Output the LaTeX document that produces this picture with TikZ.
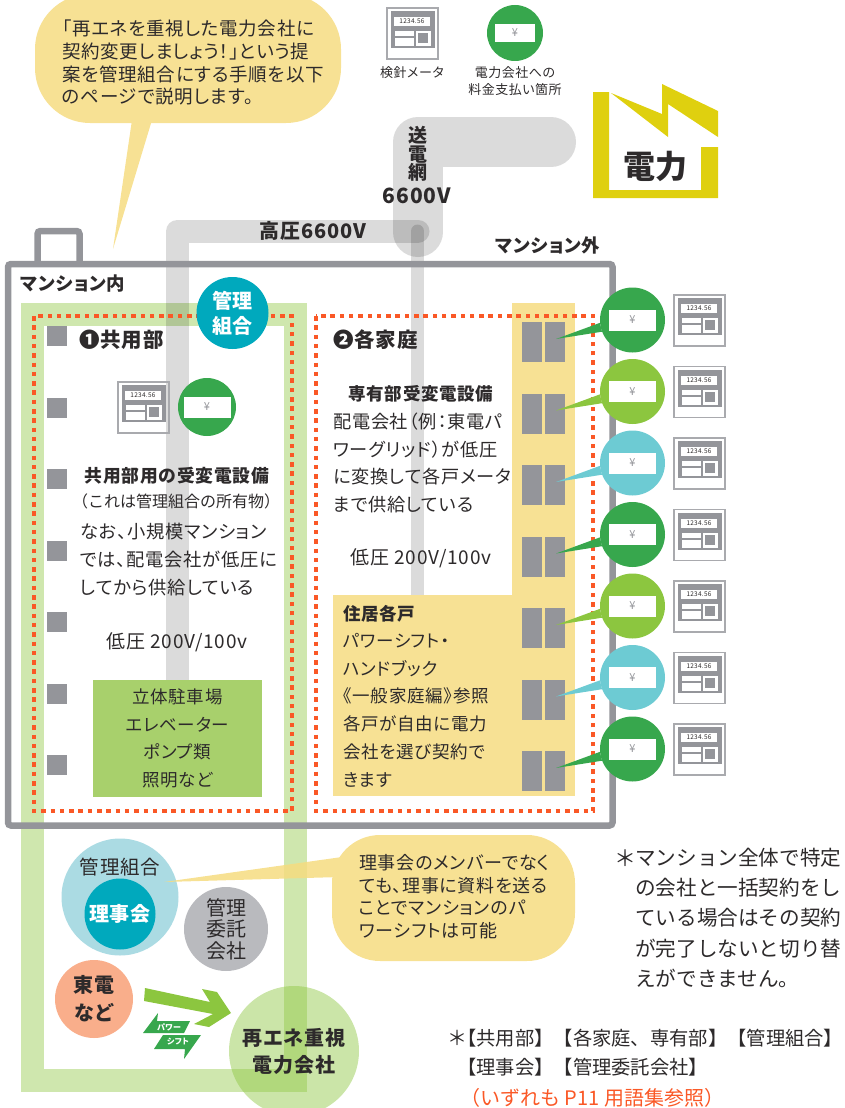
\documentclass[tikz,border=0pt]{standalone}
\usepackage{xcolor}
\usepackage{fontspec}
\setmainfont{Noto Sans CJK JP}[RawFeature={+palt}, LetterSpace=4]
\newfontfamily\fullwidth{Noto Sans CJK JP}
\definecolor{pwgreen}{RGB}{55, 167, 77}
\definecolor{pwlime}{RGB}{140, 198, 63}
\definecolor{pwcyan}{RGB}{109, 203, 211}
\definecolor{pwteal}{RGB}{0, 169, 189}
\definecolor{pwsky}{RGB}{171, 219, 227}
\definecolor{pwyellow}{RGB}{247, 225, 148}
\definecolor{pwamber}{RGB}{246, 220, 128}
\definecolor{pwgold}{RGB}{223, 208, 15}
\definecolor{pwgray}{RGB}{148, 149, 154}
\definecolor{pwsilver}{RGB}{185, 186, 190}
\definecolor{pwsalmon}{RGB}{249, 174, 139}
\definecolor{pwbox}{RGB}{168, 208, 108}
\definecolor{pwdot}{RGB}{250, 88, 38}
\definecolor{pwink}{RGB}{45, 42, 43}
\tikzset{
  txt/.style={inner sep=0pt, text=pwink, align=left, font=\fontsize{18}{23}\selectfont},
  head/.style={inner sep=0pt, text=pwink, align=center, font=\fontsize{18.4}{22}\selectfont\bfseries},
  disc/.style={circle, inner sep=0pt, align=center, text=pwink, font=\fontsize{20}{22}\selectfont},
  yenbill/.style={fill=white, inner sep=0pt, text=pwgray, font=\fontsize{11}{11}\selectfont},
  dotframe/.style={draw=pwdot, line width=4.5pt, dash pattern=on 4.5pt off 4.8pt},
  wire/.style={draw=black, draw opacity=.14, line cap=round, line join=round},
  meter/.pic={
    \draw[pwgray!80, line width=1.6pt] (1,1) rectangle (52,52);
    \fill[pwgray] (5,4) rectangle (49,41);
    \fill[white] (8,10) rectangle (44,19);
    \node[inner sep=0pt, text=pwink, font=\fontsize{6.5}{7}\selectfont\itshape] at (26,14.5) {1234.56};
    \fill[white] (9,24) rectangle (28,29);
    \fill[white] (9,31) rectangle (28,39);
    \fill[white] (30,24) rectangle (45,39);
    \fill[pwgray] (32,26) rectangle (42,36);
  }
}
\begin{document}
\begin{tikzpicture}[x=1pt, y=-1pt]
\useasboundingbox (0,0) rectangle (844,1108);

% Yellow parts of the flats
\fill[pwyellow] (512,303) rectangle (575,796);

% Green frame
\draw[pwlime, opacity=.42, line width=23pt] (32.5,314.5) rectangle (295.5,1080.5);

% Lines
\draw[wire, line width=50pt] (551,142) -- (418,142) -- (418,232);
\draw[wire, line width=23pt] (177.5,690) -- (177.5,231) -- (418,231);
\draw[wire, line width=13pt] (417.5,231) -- (417.5,610);
\fill[pwyellow] (333,595) rectangle (575,796);
\fill[pwbox] (93,680) rectangle (262,797);

% Building
\draw[pwgray, line width=6.5pt, rounded corners=3pt] (37.5,264) -- (37.5,231) -- (79.5,231) -- (79.5,264);
\draw[pwgray, line width=6.5pt, rounded corners=3pt] (8,264) rectangle (612.5,825.5);
\draw[dotframe] (34,316) rectangle (292,811);
\draw[dotframe] (316,316) rectangle (593,811);

% Squares and windows
\foreach \i in {0,...,6} {
    \fill[pwgray] (47,326+71.5*\i) rectangle (67,346+71.5*\i);
    \fill[pwgray] (522,322+71.5*\i) rectangle (542,362+71.5*\i);
    \fill[pwgray] (545,322+71.5*\i) rectangle (565,362+71.5*\i);
}

% Top callout
\fill[pwyellow, rounded corners=55pt] (35,-6) rectangle (341,123);
\fill[pwyellow] (132,120) -- (152,120) -- (113,249) -- cycle;
\node[txt, anchor=north west, font=\fontsize{18.5}{22.7}\selectfont] (intro) at (62,20) {「再エネを重視した電力会社に\\契約変更しましょう！」という提\\案を管理組合にする手順を以下\\のページで説明します。};

% Legend
\pic (meterkey) at (386,7) {meter};
\node[disc, fill=pwgreen, minimum size=56pt] (yenkey) at (515,33) {};
\node[yenbill, minimum width=40pt, minimum height=18pt] (billkey) at (yenkey) {¥};
\node[txt, font=\fontsize{13}{17}\selectfont] (meterlabel) at (412,73) {検針メータ};
\node[txt, align=center, font=\fontsize{13}{17}\selectfont] (yenlabel) at (515,81) {電力会社への\\料金支払い箇所};

% Power company
\fill[pwgold] (593,92) -- (609,92) -- (609,190) -- (701,190) -- (701,147) -- (718,147) -- (718,198) -- (593,198) -- cycle;
\fill[pwgold] (611,93) -- (662,114) -- (662,84) -- (718,111) -- (718,137) -- (668,104) -- (668,137) -- cycle;
\node[head, font=\fontsize{32}{36}\fullwidth\bfseries] (company) at (655,166) {電力};

% Line labels
\node[head, font=\fontsize{19}{18.5}\selectfont\bfseries] (grid) at (418,154) {送\\電\\網};
\node[head, font=\fontsize{21}{22}\selectfont\bfseries] (gridvolt) at (417,196) {6600V};
\node[head, font=\fontsize{20}{22}\selectfont\bfseries] (highvolt) at (313,231) {高圧6600V};
\node[head] (outside) at (548,245) {マンション外};
\node[head] (inside) at (73,284) {マンション内};

% Association
\node[disc, fill=pwteal, minimum size=72pt, text=white, font=\fontsize{20}{25}\selectfont\bfseries] (union) at (232.5,313) {管理\\組合};

% Common area
\node[head, anchor=west, font=\fontsize{20.5}{24}\selectfont\bfseries] (common) at (79,340) {❶共用部};
\pic (metercommon) at (117,381) {meter};
\node[disc, fill=pwgreen, minimum size=58pt] (yencommon) at (207,407) {};
\node[yenbill, minimum width=47pt, minimum height=21pt] (billcommon) at (yencommon) {¥};
\node[head, font=\fontsize{17.8}{20}\selectfont\bfseries] (commonhead) at (177,476) {共用部用の受変電設備};
\node[txt, font=\fontsize{16}{18}\fullwidth] (commonnote) at (176,501) {（これは管理組合の所有物）};
\node[txt, anchor=north west, font=\fontsize{18.3}{28}\selectfont] (commontext) at (80,523) {なお、小規模マンション\\では、配電会社が低圧に\\してから供給している};
\node[txt, font=\fontsize{19}{23}\selectfont] (commonvolt) at (177,642) {低圧 200V/100v};
\node[txt, align=center, font=\fontsize{17.5}{27.6}\selectfont] (commonload) at (177.5,738.5) {立体駐車場\\エレベーター\\ポンプ類\\照明など};

% Flats
\node[head, anchor=west, font=\fontsize{20.5}{24}\selectfont\bfseries] (flats) at (333,340) {❷各家庭};
\node[head, font=\fontsize{17.5}{22}\selectfont\bfseries] (flathead) at (421,394) {専有部受変電設備};
\node[txt, anchor=north west, font=\fontsize{18.2}{27.6}\selectfont] (flattext) at (333,413) {配電会社（例：東電パ\\ワーグリッド）が低圧\\に変換して各戸メータ\\まで供給している};
\node[txt, font=\fontsize{19}{23}\selectfont] (flatvolt) at (421,558) {低圧 200V/100v};
\node[head, anchor=west, font=\fontsize{17.5}{22}\selectfont\bfseries] (homes) at (343,614) {住居各戸};
\node[txt, anchor=north west, font=\fontsize{17.5}{27.8}\selectfont] (hometext) at (343,633) {パワーシフト・\\ハンドブック\\《一般家庭編》参照\\各戸が自由に電力\\会社を選び契約で\\きます};

% Payment points and meters
\foreach \i/\col in {0/pwgreen,1/pwlime,2/pwcyan,3/pwgreen,4/pwlime,5/pwcyan,6/pwgreen} {
    \coordinate (tail\i) at (556,339+71.5*\i);
    \node[disc, fill=\col, minimum size=65pt] (yen\i) at (632.5,320+71.5*\i) {};
    \fill[\col] (tail\i) -- (yen\i.185) -- (yen\i.201) -- cycle;
    \node[yenbill, minimum width=47pt, minimum height=21pt] (bill\i) at (yen\i) {¥};
    \pic (meter\i) at (673,294+71.5*\i) {meter};
}

% Lower callout
\node[disc, fill=pwsky, minimum size=117pt] (board) at (120,897) {};
\node[txt, font=\fontsize{19.5}{24}\selectfont] (boardlabel) at (120,867) {管理組合};
\node[disc, fill=pwteal, minimum size=71pt, text=white, font=\fontsize{20}{24}\selectfont\bfseries] (directors) at (120,914) {理事会};
\coordinate (boardtail) at (164,882);
\begin{scope}[transparency group, opacity=.85]
\fill[pwamber, rounded corners=48pt] (332,835) rectangle (575,961);
\fill[pwamber] (boardtail) -- (342,857) -- (340,877) -- cycle;
\end{scope}
\node[txt, anchor=north west, font=\fontsize{18}{22.7}\selectfont] (boardtext) at (359,854) {理事会のメンバーでなく\\ても、理事に資料を送る\\ことでマンションのパ\\ワーシフトは可能};

% Companies
\node[disc, fill=pwsilver, minimum size=84pt, font=\fontsize{20}{21.5}\fullwidth] (agent) at (226,929) {管理\\委託\\会社};
\node[disc, fill=pwsalmon, minimum size=78pt, font=\fontsize{20}{28}\selectfont\bfseries] (tepco) at (94,999) {東電\\など};
\node[disc, fill=pwlime, fill opacity=.45, text opacity=1, minimum size=130pt, font=\fontsize{20}{27}\selectfont\bfseries] (renew) at (294,1051) {再エネ重視\\電力会社};
\fill[pwlime] (145,988) -- (210,1002) -- (202,989) -- (217,992) -- (231,1013) -- (209,1027) -- (194,1024) -- (213,1014) -- (144,1001) -- cycle;

% Power shift badge
\fill[pwgreen] (158,1013) -- (157,1021) -- (190,1021) -- (184,1033) -- (143,1033) -- cycle;
\fill[pwgreen] (163,1035) -- (201,1035) -- (184,1059) -- (185,1049) -- (154,1049) -- cycle;
\node[inner sep=0pt, text=white, font=\fontsize{8}{8}\selectfont\bfseries] (shiftup) at (169,1027) {パワー};
\node[inner sep=0pt, text=white, font=\fontsize{8}{8}\selectfont\bfseries] (shiftdown) at (178,1042) {シフト};

% Notes
\node[txt, anchor=west, font=\fontsize{22}{24}\fullwidth] (starone) at (614,858) {＊};
\node[txt, anchor=north west, font=\fontsize{20.6}{30.2}\fullwidth] (noteone) at (635,848) {マンション全体で特定\\の会社と一括契約をし\\ている場合はその契約\\が完了しないと切り替\\えができません。};
\node[txt, anchor=west, font=\fontsize{20}{24}\fullwidth] (startwo) at (447,1038) {＊};
\node[txt, anchor=north west, font=\fontsize{19.3}{29}\fullwidth] (notetwo) at (457,1029) {【共用部】【各家庭、専有部】【管理組合】\\【理事会】【管理委託会社】};
\node[txt, anchor=west, text=pwdot, font=\fontsize{20}{24}\fullwidth] (notethree) at (460,1098) {（いずれも P11 用語集参照）};
\end{tikzpicture}
\end{document}
